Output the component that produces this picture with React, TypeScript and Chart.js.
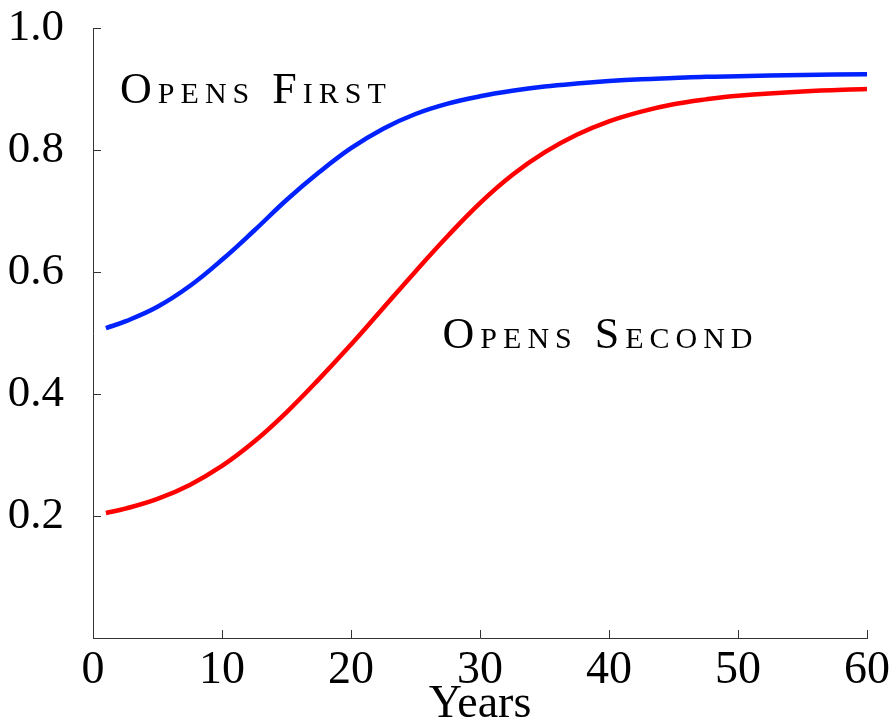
import { useEffect, useRef } from 'react';
import { Chart, registerables } from 'chart.js';

Chart.register(...registerables);

// ---- Data ----
const years = [1, 2.5, 5, 7.5, 10, 12.5, 15, 17.5, 20, 22.5, 25, 27.5, 30, 32.5, 35, 37.5, 40, 42.5, 45, 47.5, 50, 55, 60];
const opensFirst = [0.508, 0.519, 0.543, 0.577, 0.62, 0.668, 0.718, 0.763, 0.803, 0.835, 0.859, 0.876, 0.888, 0.897, 0.904, 0.909, 0.913, 0.916, 0.918, 0.92, 0.921, 0.923, 0.924];
const opensSecond = [0.205, 0.212, 0.228, 0.251, 0.282, 0.322, 0.37, 0.424, 0.481, 0.541, 0.601, 0.659, 0.713, 0.759, 0.796, 0.825, 0.847, 0.863, 0.875, 0.883, 0.889, 0.896, 0.9];
const yTickValues = [0, 0.2, 0.4, 0.6, 0.8, 1.0];
const xTickValues = [0, 10, 20, 30, 40, 50, 60];
const curveLabelTexts = ['Opens First', 'Opens Second'];
const curveLabelYears = [2.1, 27.1];
const curveLabelValues = [0.877, 0.475];
const xTitle = 'Years';

const FONT = "'Liberation Serif', 'Times New Roman', serif";
const AXIS_COLOR = '#333333';

function drawSmallCaps(ctx: CanvasRenderingContext2D, text: string, x: number, y: number, big: number, small: number, spacing: number) {
  let cx = x;
  ctx.textBaseline = 'alphabetic';
  ctx.textAlign = 'left';
  ctx.fillStyle = '#000';
  for (const ch of text) {
    const isUpper = ch === ' ' || ch === ch.toUpperCase();
    ctx.font = `${isUpper ? big : small}px ${FONT}`;
    const c = isUpper ? ch : ch.toUpperCase();
    ctx.fillText(c, cx, y);
    cx += ctx.measureText(c).width + spacing;
  }
}

const innerTicksPlugin = {
  id: 'innerTicks',
  beforeDatasetsDraw(chart: any) {
    const { ctx, chartArea, scales } = chart;
    ctx.save();
    ctx.strokeStyle = AXIS_COLOR;
    ctx.lineWidth = 1;
    ctx.beginPath();
    for (const t of scales.x.ticks) {
      const px = Math.round(scales.x.getPixelForValue(t.value)) + 0.5;
      ctx.moveTo(px, chartArea.bottom);
      ctx.lineTo(px, chartArea.bottom - 8);
    }
    for (const t of scales.y.ticks) {
      const py = Math.round(scales.y.getPixelForValue(t.value)) + 0.5;
      ctx.moveTo(chartArea.left, py);
      ctx.lineTo(chartArea.left + 8, py);
    }
    ctx.stroke();
    ctx.restore();
  },
};

const curveLabelsPlugin = {
  id: 'curveLabels',
  afterDatasetsDraw(chart: any) {
    const { ctx, scales } = chart;
    ctx.save();
    curveLabelTexts.forEach((text, i) => {
      const px = scales.x.getPixelForValue(curveLabelYears[i]);
      const py = scales.y.getPixelForValue(curveLabelValues[i]);
      drawSmallCaps(ctx, text, px, py, 44, 30, 6);
    });
    ctx.restore();
  },
};

export default function App() {
  const canvasRef = useRef<HTMLCanvasElement | null>(null);

  useEffect(() => {
    document.body.style.margin = '0';
    const canvas = canvasRef.current;
    if (!canvas) return;
    const chart = new Chart(canvas, {
      type: 'line',
      data: {
        datasets: [
          {
            label: 'Opens First',
            data: years.map((x, i) => ({ x, y: opensFirst[i] })),
            borderColor: 'rgb(0, 34, 255)',
            borderWidth: 4.5,
            pointRadius: 0,
            tension: 0.4,
            fill: false,
          },
          {
            label: 'Opens Second',
            data: years.map((x, i) => ({ x, y: opensSecond[i] })),
            borderColor: 'rgb(255, 0, 0)',
            borderWidth: 4.5,
            pointRadius: 0,
            tension: 0.4,
            fill: false,
          },
        ],
      },
      options: {
        responsive: false,
        animation: false,
        devicePixelRatio: 1,
        layout: { padding: { top: 28, right: 28, left: 0, bottom: 0 } },
        plugins: {
          legend: { display: false },
          tooltip: { enabled: false },
          title: { display: false },
        },
        scales: {
          x: {
            type: 'linear',
            min: 0,
            max: 60,
            grid: { display: false },
            border: { display: true, color: AXIS_COLOR, width: 1 },
            afterBuildTicks: (scale: any) => {
              scale.ticks = xTickValues.map((v) => ({ value: v }));
            },
            ticks: {
              color: '#000',
              font: { family: FONT, size: 46, lineHeight: 1 },
              padding: 2,
              maxRotation: 0,
              callback: (v: any) => String(v),
            },
            title: {
              display: true,
              text: xTitle,
              color: '#000',
              font: { family: FONT, size: 46, lineHeight: 1 },
              padding: { top: 0, bottom: -2 },
            },
            afterFit: (scale: any) => {
              scale.height = 88;
              scale.paddingLeft = 0;
              scale.paddingRight = 0;
            },
          },
          y: {
            type: 'linear',
            min: 0,
            max: 1,
            grid: { display: false },
            border: { display: true, color: AXIS_COLOR, width: 1 },
            afterBuildTicks: (scale: any) => {
              scale.ticks = yTickValues.map((v) => ({ value: v }));
            },
            ticks: {
              color: '#000',
              font: { family: FONT, size: 45 },
              padding: 21,
              callback: (v: any) => (v === 0 ? '' : Number(v).toFixed(1)),
            },
            afterFit: (scale: any) => {
              scale.width = 93;
              scale.paddingTop = 0;
              scale.paddingBottom = 0;
            },
          },
        },
      },
      plugins: [innerTicksPlugin, curveLabelsPlugin],
    } as any);
    return () => chart.destroy();
  }, []);

  return <canvas ref={canvasRef} width={895} height={726} style={{ display: 'block' }} />;
}
